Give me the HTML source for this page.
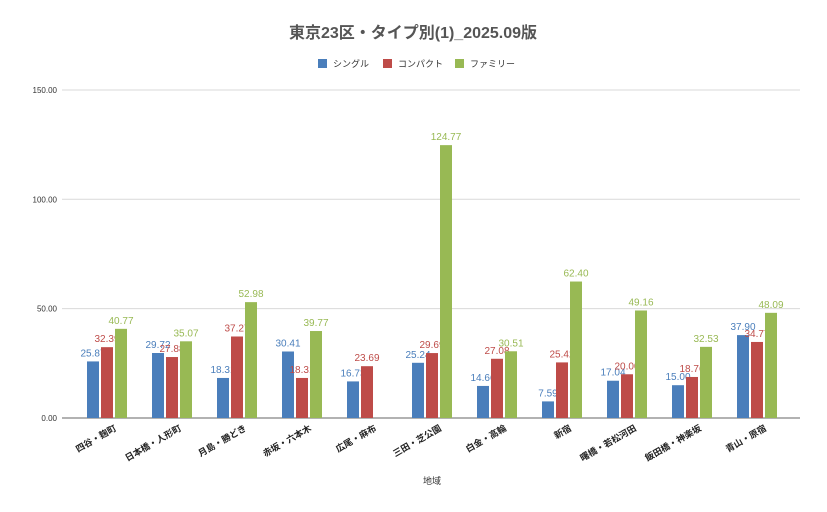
<!DOCTYPE html>
<html><head><meta charset="utf-8"><style>
body{margin:0;background:#fff;}
svg{display:block;font-family:"Liberation Sans","Noto Sans CJK JP",sans-serif;}
</style></head><body>
<svg id="c" width="827" height="512">
<text x="413" y="38" text-anchor="middle" font-size="16" font-weight="bold" fill="#555">東京23区・タイプ別(1)_2025.09版</text>
<g>
<rect x="318" y="59" width="9" height="9" fill="#4a7ebb"/>
<text x="333" y="67" font-size="9" fill="#333">シングル</text>
<rect x="383" y="59" width="9" height="9" fill="#be4b48"/>
<text x="398" y="67" font-size="9" fill="#333">コンパクト</text>
<rect x="455" y="59" width="9" height="9" fill="#98b954"/>
<text x="470" y="67" font-size="9" fill="#333">ファミリー</text>
</g>
<g id="grid"></g><g id="bars"></g><g id="xl"></g>
<text x="432" y="484" text-anchor="middle" font-size="9" fill="#333">地域</text>
</svg>
<script>
const categories=["四谷・麹町","日本橋・人形町","月島・勝どき","赤坂・六本木","広尾・麻布","三田・芝公園","白金・高輪","新宿","曙橋・若松河田","飯田橋・神楽坂","青山・原宿"];
const single=[25.87,29.72,18.31,30.41,16.73,25.24,14.66,7.59,17.04,15.00,37.90];
const compact=[32.39,27.88,37.27,18.31,23.69,29.69,27.08,25.42,20.00,18.76,34.77];
const family=[40.77,35.07,52.98,39.77,null,124.77,30.51,62.40,49.16,32.53,48.09];
const yTicks=[0,50,100,150];
const NS="http://www.w3.org/2000/svg";
const y=v=>418-v*2.187;
const x=i=>107+i*65;
function mk(t,a,p){const e=document.createElementNS(NS,t);for(const k in a)e.setAttribute(k,a[k]);p.appendChild(e);return e;}
const g=document.getElementById('grid'),b=document.getElementById('bars'),xl=document.getElementById('xl');
yTicks.forEach(t=>{
 const l=mk('line',{x1:62,x2:800,y1:y(t),y2:y(t),stroke:t?'#d9d9d9':'#666','stroke-width':1},g);
 
 
 const tx=mk('text',{x:57,y:y(t)+3,'text-anchor':'end','font-size':8,fill:'#333'},g);
 tx.textContent=t.toFixed(2);
 
 
});
const series=[[single,'#4a7ebb','#4a7ebb',-14,'single'],[compact,'#be4b48','#be4b48',0,'compact'],[family,'#98b954','#98b954',14,'family']];
categories.forEach((c,i)=>{
 series.forEach(([d,col,tc,off,nm])=>{
  const v=d[i]; if(v==null)return;
  const r=mk('rect',{x:x(i)+off-6,y:y(v),width:12,height:418-y(v),fill:col},b);
  
  
  const t=mk('text',{x:x(i)+off,y:y(v)-5,'text-anchor':'middle','font-size':10,fill:tc},b);
  t.textContent=v.toFixed(2);
  
  
 });
 const t=mk('text',{'text-anchor':'end','font-size':9,'font-weight':'bold',fill:'#222',transform:`translate(${x(i)+10},${430}) rotate(-30)`},xl);
 t.textContent=c;
 
 
});
</script>
</body></html>
